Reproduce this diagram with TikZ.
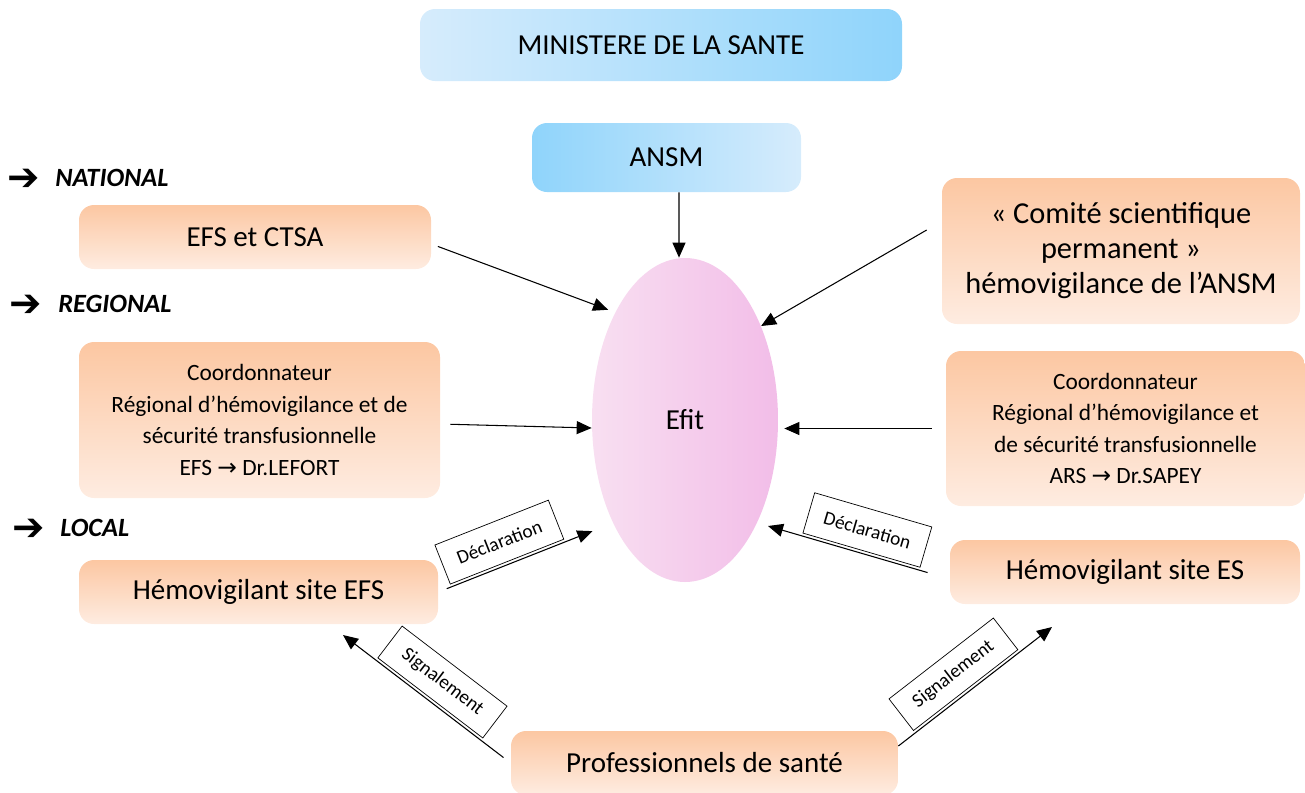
\documentclass[tikz,border=0pt]{standalone}
\usepackage{fontspec}
\setmainfont{Carlito}
\newfontfamily\dejavu{DejaVu Sans}
\usetikzlibrary{arrows.meta}
\usetikzlibrary{shapes.geometric}

\definecolor{peachtop}{RGB}{252,199,162}
\definecolor{peachbot}{RGB}{254,236,225}
\definecolor{skylight}{RGB}{214,236,252}
\definecolor{skydark}{RGB}{143,212,251}
\definecolor{pinklight}{RGB}{248,223,241}
\definecolor{pinkdark}{RGB}{242,189,232}

\tikzset{
  orangebox/.style={rectangle, rounded corners=0.3cm, top color=peachtop,
    bottom color=peachbot, align=center, inner sep=0pt},
  bluebox/.style={rectangle, rounded corners=0.3cm, align=center, inner sep=0pt,
    font=\fontsize{16.5}{20}\selectfont},
  bigfont/.style={font=\fontsize{16.5}{20}\selectfont},
  smallfont/.style={font=\fontsize{13.3}{17.9}\selectfont},
  tagbox/.style={draw, thin, sloped, above=1.5pt, minimum height=0.84cm,
    inner sep=0pt, font=\fontsize{11}{13}\selectfont},
  levellabel/.style={anchor=west, inner sep=0pt,
    font=\fontsize{15}{17}\selectfont\bfseries\itshape},
  link/.style={-{Triangle[length=0.3cm, width=0.26cm]}, semithick},
}

\begin{document}
\begin{tikzpicture}
\useasboundingbox (0, 0) rectangle (26.1, -15.84);

\node[bluebox, left color=skylight, right color=skydark, minimum width=9.64cm,
  minimum height=1.44cm] (ministere) at (13.22, -0.90) {MINISTERE DE LA SANTE};
\node[bluebox, left color=skydark, right color=skylight, minimum width=5.38cm,
  minimum height=1.38cm] (ansm) at (13.33, -3.15) {ANSM};

\node[ellipse, left color=pinklight, right color=pinkdark, minimum width=3.72cm,
  minimum height=6.48cm, inner sep=0pt, bigfont] (efit) at (13.70, -8.40) {Efit};

\node[levellabel] (national) at (0.14, -3.60)
  {\makebox[0.96cm][l]{\raisebox{-2.5pt}{\dejavu\upshape\fontsize{22}{22}\selectfont ➔}}NATIONAL};
\node[levellabel] (regional) at (0.18, -6.12)
  {\makebox[0.98cm][l]{\raisebox{-2.5pt}{\dejavu\upshape\fontsize{22}{22}\selectfont ➔}}REGIONAL};
\node[levellabel] (local)    at (0.24, -10.60)
  {\makebox[0.96cm][l]{\raisebox{-2.5pt}{\dejavu\upshape\fontsize{22}{22}\selectfont ➔}}LOCAL};

\node[orangebox, bigfont, minimum width=7.04cm, minimum height=1.28cm] (efs)
  at (5.10, -4.74) {EFS et CTSA};
\node[orangebox, smallfont, minimum width=7.22cm, minimum height=3.12cm] (coordl)
  at (5.19, -8.40) {Coordonnateur\\ Régional d’hémovigilance et de\\ sécurité transfusionnelle\\ EFS {\dejavu →} Dr.LEFORT};
\node[orangebox, bigfont, minimum width=7.18cm, minimum height=1.28cm] (hemoefs)
  at (5.17, -11.84) {Hémovigilant site EFS};

\node[orangebox, font=\fontsize{17.3}{19.9}\selectfont, minimum width=7.16cm,
  minimum height=2.92cm] (comite)
  at (22.42, -5.02) {« Comité scientifique\\ permanent »\\ hémovigilance de l’ANSM};
\node[orangebox, smallfont, minimum width=7.18cm, minimum height=3.10cm] (coordr)
  at (22.51, -8.57) {Coordonnateur\\ Régional d’hémovigilance et\\ de sécurité transfusionnelle\\ ARS {\dejavu →} Dr.SAPEY};
\node[orangebox, bigfont, minimum width=7.00cm, minimum height=1.28cm] (hemoes)
  at (22.50, -11.44) {Hémovigilant site ES};

\node[orangebox, bigfont, minimum width=7.74cm, minimum height=1.28cm] (prof)
  at (14.09, -15.26) {Professionnels de santé};

\coordinate (declR) at (15.36, -10.52);
\coordinate (sigL)  at ( 6.86, -12.70);
\coordinate (sigR)  at (21.04, -12.54);

\draw[link] ([xshift=0.25cm]ansm.south) -- ([xshift=-0.12cm]efit.north);
\draw[link, shorten <=0.14cm, shorten >=0.15cm] ([yshift=-0.14cm]efs.east) -- (efit.123);
\draw[link] ([shift={(-0.30, 0.42)}]comite.west) -- (efit.51);
\draw[link, shorten <=0.2cm] ([yshift=-0.08cm]coordl.east) -- ([yshift=-0.16cm]efit.west);
\draw[link, shorten <=0.28cm, shorten >=0.12cm] (coordr.west) -- (coordr.west -| efit.east);

\draw[link, shorten <=0.18cm, shorten >=0.44cm] (hemoefs.east) -- (efit.235)
  node[tagbox, pos=0.40, minimum width=2.44cm] {Déclaration};
\draw[link, shorten <=0.46cm] ([yshift=-0.14cm]hemoes.west) -- (declR)
  node[tagbox, pos=0.49, minimum width=2.44cm] {Déclaration};
\draw[link, shorten <=0.18cm] (prof.west) -- (sigL)
  node[tagbox, pos=0.49, minimum width=2.64cm, minimum height=0.8cm] {Signalement};
\draw[link] ([yshift=0.34cm]prof.east) -- (sigR)
  node[tagbox, pos=0.45, minimum width=2.64cm, minimum height=0.8cm] {Signalement};

\end{tikzpicture}
\end{document}
